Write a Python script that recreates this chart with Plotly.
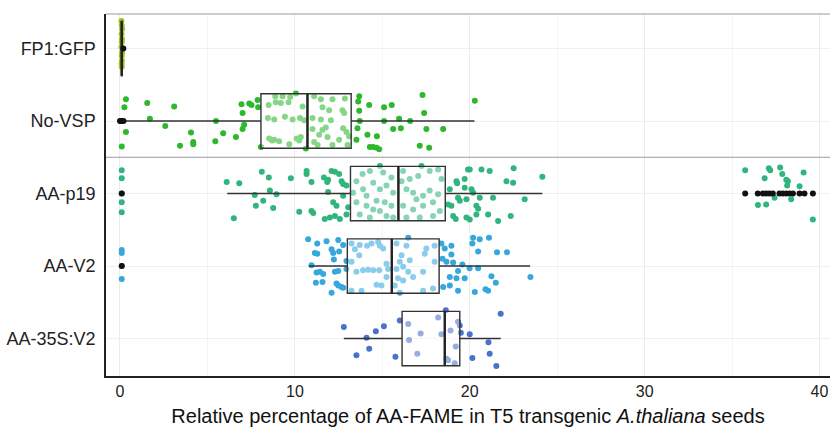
import plotly.graph_objects as go

# ---------------- data ----------------
categories = ["FP1:GFP", "No-VSP", "AA-p19", "AA-V2", "AA-35S:V2"]
colors = ["#9cc320", "#2db82d", "#30b57c", "#36a8dc", "#4a72cc"]

# box statistics
q1 = [0.08, 8.06, 13.18, 13.00, 16.13]
median = [0.10, 10.72, 15.92, 15.54, 18.57]
q3 = [0.12, 13.22, 18.60, 18.25, 19.43]
lowerfence = [0.05, 0.33, 6.13, 10.80, 12.80]
upperfence = [0.14, 20.27, 24.15, 23.45, 21.77]

# outliers (group index, value)
out_group = [0, 1, 1, 1, 2, 3,
             2, 2, 2, 2, 2, 2, 2, 2, 2, 2, 2, 2, 2, 2]
out_value = [0.19, 0.00, 0.10, 0.20, 0.10, 0.10,
             35.75, 36.47, 36.76, 36.95, 37.14, 37.33, 37.71, 37.90,
             38.10, 38.29, 38.48, 38.86, 39.14, 39.62]

fp1_x = [0.08, 0.10, 0.12, 0.09, 0.11, 0.10, 0.08, 0.12, 0.10, 0.11, 0.09, 0.10]
fp1_j = [-0.38, -0.32, -0.27, -0.20, -0.13, -0.09, -0.02, 0.05, 0.10, 0.17, 0.21, 0.25]

novsp_x = [0.34, 0.25, 0.34, 0.10, 1.56, 1.71, 3.10, 2.59, 3.43, 4.06, 4.19, 4.19,
           5.49, 5.45, 5.90, 6.63, 6.95, 7.01, 7.39, 7.52, 7.87, 7.90, 7.10, 7.01,
           8.06, 8.88, 9.30, 8.50, 8.91, 9.20, 9.64, 9.73, 10.06, 8.46, 8.82, 9.43,
           9.87, 10.29, 8.53, 8.82, 9.10, 8.69, 9.68, 10.10, 10.25, 10.34, 10.53,
           10.44, 10.63, 11.10, 11.49, 12.15, 11.58, 11.96, 12.72, 12.82, 11.01,
           11.49, 12.06, 11.01, 11.58, 11.77, 11.39, 11.87, 11.10, 11.30, 12.15,
           12.53, 12.76, 12.95, 13.01, 13.10, 12.86, 13.68, 13.62, 13.68, 13.71,
           13.58, 13.52, 14.25, 14.15, 14.69, 15.10, 15.54, 15.10, 15.96, 15.62,
           16.06, 16.59, 17.30, 17.39, 17.52, 18.48, 17.14, 17.68, 14.29, 14.48,
           14.67, 14.82, 20.29]
novsp_j = [-0.30, -0.19, 0.15, 0.35, -0.25, -0.03, -0.20, 0.07, 0.34, 0.16, 0.29, 0.32,
           0.00, 0.28, 0.17, 0.22, -0.23, -0.11, -0.24, -0.22, -0.29, -0.19, 0.05, 0.11,
           0.36, -0.34, -0.34, -0.22, -0.26, -0.25, -0.26, -0.33, -0.38, -0.04, -0.02, -0.06,
           -0.02, -0.04, 0.24, 0.26, 0.28, 0.27, 0.32, 0.24, 0.27, 0.22, -0.01,
           -0.20, 0.38, -0.34, -0.30, -0.30, -0.19, -0.15, -0.15, -0.11, -0.04,
           -0.02, -0.01, 0.11, 0.12, 0.09, 0.19, 0.22, 0.29, 0.33, 0.33,
           0.26, 0.10, 0.15, 0.33, 0.21, -0.31, -0.34, -0.27, -0.14, 0.00,
           0.10, 0.26, -0.22, 0.19, 0.21, 0.00, -0.22, -0.19, -0.03, 0.11,
           0.10, 0.00, -0.36, -0.11, 0.11, 0.11, 0.34, 0.37, 0.36, 0.36,
           0.37, 0.39, -0.28]

p19_x = [0.10, 0.10, 0.10, 0.10, 0.10,
         6.10, 6.82, 6.51, 8.11, 8.51, 8.57, 8.95, 7.71, 8.19, 7.77, 8.76, 9.77,
         10.67, 10.67, 10.95, 10.25, 10.95, 11.05, 11.66, 11.90, 12.10, 12.29, 12.53,
         12.67, 12.76, 12.95, 11.90, 12.19, 12.38, 11.71, 12.00, 12.29, 12.57, 12.95,
         13.05, 12.76, 11.85,
         13.52, 13.87, 14.29, 14.86, 15.05, 15.52, 13.90, 14.48, 14.10, 14.86, 15.24,
         13.52, 14.10, 14.67, 15.14, 15.52, 13.71, 14.29, 14.86, 15.24, 15.62, 13.33,
         15.62, 14.48,
         16.19, 16.57, 17.05, 17.24, 17.71, 18.19, 16.38, 16.76, 17.33, 17.71, 18.19,
         16.19, 16.76, 17.33, 17.90, 18.29, 16.38, 17.14, 17.90, 16.10, 16.95, 18.38,
         18.86, 19.24, 19.28, 19.71, 19.90, 20.00, 20.67, 21.14, 22.51, 22.10, 22.48,
         24.15, 19.71, 20.10, 20.19, 19.33, 19.81, 20.57, 21.33, 18.76, 18.95, 20.38,
         20.48, 23.14, 19.05, 19.20, 19.81, 20.00, 20.38, 21.05, 21.62, 22.34, 19.43,
         35.75, 36.86, 37.10, 37.18, 37.75, 37.87, 38.10, 38.19, 38.15, 39.09, 38.86,
         36.48, 36.95, 37.43, 38.38, 39.62]
p19_j = [-0.32, -0.21, 0.00, 0.12, 0.26,
         -0.16, -0.14, 0.34, -0.30, -0.22, -0.04, 0.01, 0.02, 0.10, 0.17, 0.20, -0.21,
         -0.31, -0.27, -0.16, 0.25, 0.24, 0.27, -0.22, -0.19, -0.31, -0.30, -0.27,
         -0.17, -0.13, -0.11, -0.02, 0.12, 0.17, 0.35, 0.33, 0.31, 0.35, 0.29,
         0.19, 0.03, -0.16,
         -0.17, -0.27, -0.31, -0.38, -0.29, -0.22, -0.06, -0.15, 0.03, -0.06, -0.11,
         0.12, 0.17, 0.10, 0.12, 0.17, 0.29, 0.33, 0.24, 0.31, 0.33, -0.01,
         -0.01, 0.22,
         -0.31, -0.20, -0.24, -0.38, -0.31, -0.33, -0.06, -0.01, 0.03, -0.04, 0.01,
         0.17, 0.22, 0.17, 0.12, 0.24, 0.33, 0.33, 0.31, -0.17, 0.08, -0.20,
         -0.06, -0.17, -0.14, -0.20, -0.33, -0.33, -0.33, -0.31, -0.35, -0.17, -0.15,
         -0.23, -0.08, -0.06, -0.01, 0.06, 0.08, 0.06, 0.06, 0.15, 0.17, 0.17,
         0.21, 0.08, 0.31, 0.35, 0.33, 0.36, 0.29, 0.29, 0.38, 0.31, 0.10,
         -0.32, -0.21, -0.35, -0.32, -0.36, -0.27, -0.19, -0.17, -0.11, -0.29, -0.10,
         0.16, 0.15, 0.06, 0.08, 0.36]

v2_x = [0.10, 0.10, 0.10, 0.10,
        10.76, 11.28, 11.81, 12.48, 12.76, 11.14, 11.28, 12.10, 12.19, 12.53, 12.23,
        10.95, 11.43, 11.62, 11.24, 12.29, 12.48, 11.20, 11.58, 12.10, 12.48, 12.67,
        12.76, 12.38, 12.95, 12.95,
        13.24, 13.43, 13.71, 14.13, 14.38, 14.76, 14.86, 13.68, 13.24, 13.52, 13.90,
        14.19, 14.48, 14.82, 13.24, 13.81, 14.67, 14.95, 15.24, 15.33, 15.24, 15.05,
        15.81, 16.38, 16.48, 17.52, 17.99, 16.10, 16.57, 16.00, 15.81, 16.19, 16.48,
        15.90, 16.19, 16.76, 17.33, 17.99, 15.71, 17.33, 17.90, 16.00, 17.43,
        18.38, 18.57, 18.95, 18.44, 18.67, 19.05, 18.95, 19.58, 19.99, 19.33, 20.15,
        20.19, 20.57, 21.10, 20.48, 21.56, 22.13, 20.48, 18.86, 19.24, 19.71, 18.48,
        18.86, 19.33, 20.29, 20.90, 21.05, 21.24, 21.49, 23.47]
v2_j = [-0.22, -0.18, 0.00, 0.18,
        -0.37, -0.31, -0.34, -0.36, -0.29, -0.18, -0.17, -0.23, -0.18, -0.20, -0.09,
        -0.01, 0.08, 0.11, 0.09, 0.08, 0.07, 0.23, 0.22, 0.37, 0.27, 0.29,
        0.30, 0.24, -0.07, 0.04,
        -0.31, -0.23, -0.29, -0.28, -0.31, -0.33, -0.28, -0.15, -0.06, 0.08, 0.06,
        0.05, 0.06, 0.06, 0.34, 0.34, 0.26, 0.27, -0.03, 0.04, 0.15, -0.24,
        -0.31, -0.28, -0.39, -0.24, -0.28, -0.15, -0.08, -0.06, 0.04, 0.01, 0.08,
        0.17, 0.20, 0.15, 0.08, -0.06, 0.27, 0.34, 0.31, 0.37, -0.17,
        -0.31, -0.24, -0.28, -0.10, -0.06, -0.05, -0.16, -0.02, 0.03, 0.07, -0.31,
        -0.39, -0.37, -0.39, -0.20, -0.19, -0.19, 0.03, 0.15, 0.17, 0.17, 0.29,
        0.27, 0.34, 0.36, 0.32, 0.34, 0.14, 0.23, 0.15]

s35_x = [12.80, 13.52, 14.10, 14.25, 14.63, 15.09, 15.75, 16.00, 16.48, 17.19, 16.53,
         17.00, 18.19, 18.38, 18.63, 18.67, 18.76, 18.90, 19.20, 19.33, 19.43, 19.14,
         19.49, 20.00, 20.15, 21.07, 21.14, 21.52, 21.77]
s35_j = [-0.16, 0.23, -0.01, 0.14, -0.10, -0.17, 0.25, -0.25, -0.20, -0.07, 0.02,
         0.21, -0.29, -0.06, -0.39, 0.28, 0.30, -0.11, 0.11, -0.23, -0.18, 0.34,
         -0.08, -0.06, 0.27, 0.05, 0.21, 0.38, -0.34]

x_ticks = [0, 10, 20, 30, 40]
x_title = "Relative percentage of AA-FAME in T5 transgenic <i>A.thaliana</i> seeds"

# ---------------- figure ----------------
FONT = "Arial, 'Liberation Sans', sans-serif"
BOX_W = 0.75
fig = go.Figure()

groups = [(fp1_x, fp1_j), (novsp_x, novsp_j), (p19_x, p19_j), (v2_x, v2_j), (s35_x, s35_j)]
for i, (xs, js) in enumerate(groups):
    fig.add_trace(go.Scatter(
        x=xs, y=[i + j for j in js], mode="markers",
        marker=dict(color=colors[i], size=6, line=dict(width=0)),
        showlegend=False, hoverinfo="x", xaxis="x", yaxis="y"))

# boxes on an overlaying subplot so that they are drawn above the points
fig.add_trace(go.Box(
    y=list(range(len(categories))), q1=q1, median=median, q3=q3,
    lowerfence=lowerfence, upperfence=upperfence, orientation="h",
    boxpoints=False, width=BOX_W, whiskerwidth=0,
    fillcolor="rgba(255,255,255,0.42)",
    line=dict(color="#333333", width=1.4),
    showlegend=False, xaxis="x2", yaxis="y2"))

# thicker median lines
mx, my = [], []
for i, m in enumerate(median):
    mx += [m, m, None]
    my += [i - BOX_W / 2, i + BOX_W / 2, None]
fig.add_trace(go.Scatter(x=mx, y=my, mode="lines",
                         line=dict(color="#222222", width=2.4),
                         showlegend=False, hoverinfo="skip", xaxis="x2", yaxis="y2"))

# outliers
fig.add_trace(go.Scatter(x=out_value, y=out_group, mode="markers",
                         marker=dict(color="#111111", size=6),
                         showlegend=False, xaxis="x2", yaxis="y2"))

XR = [-0.8, 40.6]
YR = [4.517, -0.476]
fig.update_layout(
    width=830, height=431,
    margin=dict(l=106, r=0, t=14, b=55, pad=0),
    paper_bgcolor="white", plot_bgcolor="white",
    font=dict(family=FONT, color="#111111"),
    xaxis=dict(range=XR, tickvals=x_ticks, showgrid=True, gridcolor="#ececec",
               gridwidth=1, zeroline=False, showline=True, linecolor="#222222",
               linewidth=1.5, ticks="", tickfont=dict(size=16, color="#222222"),
               minor=dict(dtick=5, showgrid=True, gridcolor="#f5f5f5", gridwidth=1),
               title=dict(text=x_title, font=dict(size=20, color="#111111"), standoff=10)),
    yaxis=dict(range=YR, tickvals=list(range(len(categories))), ticktext=categories,
               showgrid=True, gridcolor="#f0f0f0", zeroline=False, showline=True,
               linecolor="#222222", linewidth=1.5, ticks="",
               tickfont=dict(size=18, color="#222222"), ticklabelstandoff=5),
    xaxis2=dict(range=XR, overlaying="x", matches="x", visible=False),
    yaxis2=dict(range=YR, overlaying="y", visible=False),
    shapes=[
        dict(type="line", xref="paper", yref="y", x0=0, x1=1, y0=1.5, y1=1.5,
             line=dict(color="#9a9a9a", width=1.2)),
        dict(type="line", xref="paper", yref="paper", x0=0, x1=1, y0=1, y1=1,
             line=dict(color="#9a9a9a", width=1.2)),
    ],
)

# remove the default page margin so the figure sits at the window's top-left corner
fig.write_html("out.html", config={"displayModeBar": False},
               post_script="document.body.style.margin='0';")
